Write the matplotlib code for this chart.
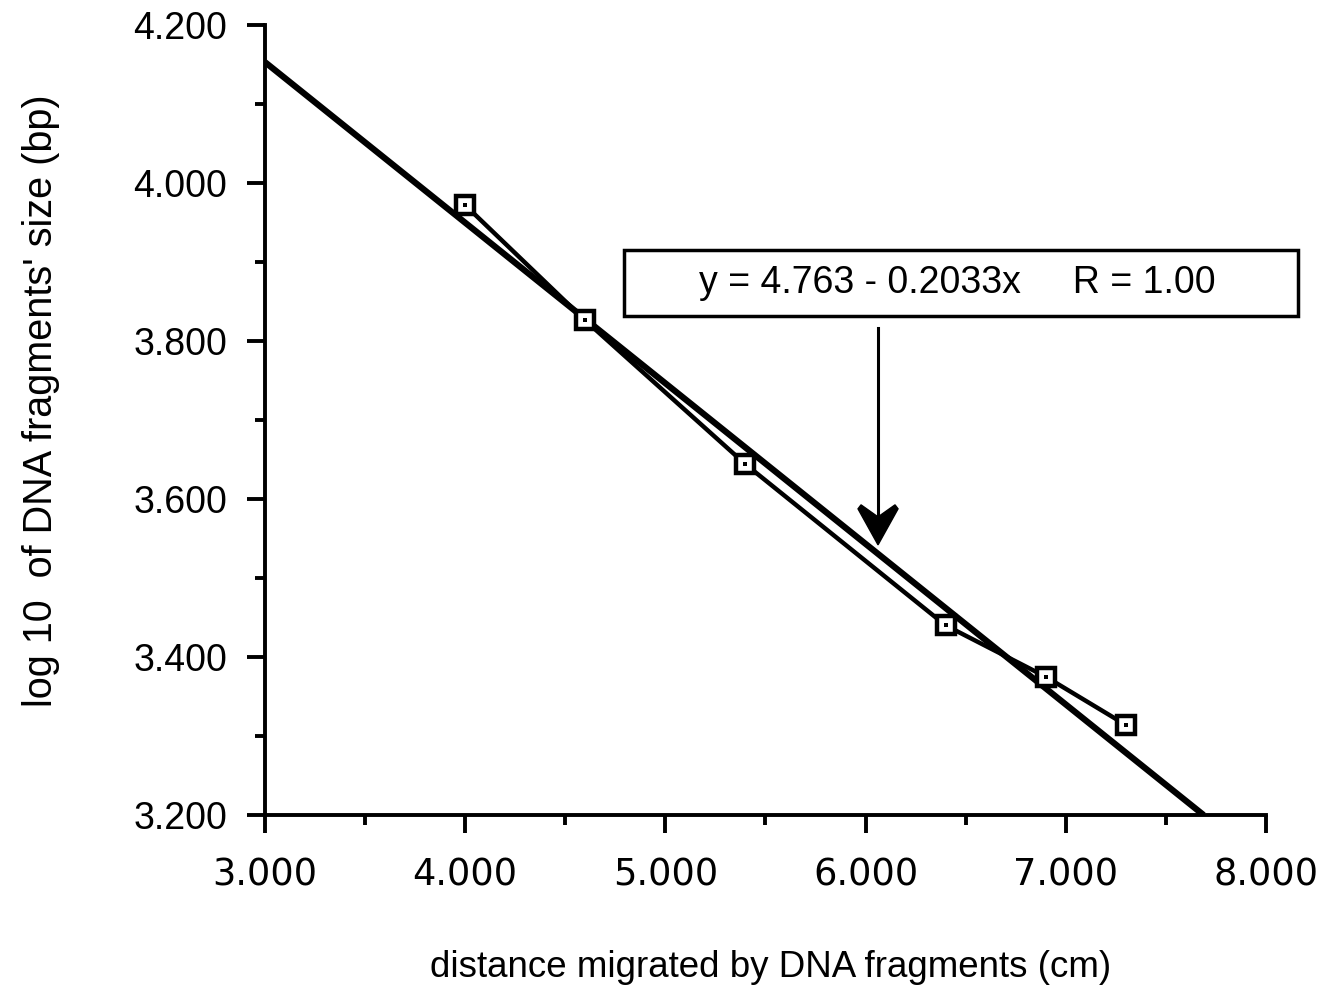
import numpy as np
import matplotlib.pyplot as plt
from matplotlib.ticker import MultipleLocator, FormatStrFormatter
from matplotlib.patches import Polygon
from matplotlib.transforms import ScaledTranslation

# measured gel migration vs log10 fragment size
distance = [4.0, 4.6, 5.4, 6.4, 6.9, 7.3]
log_size = [3.972, 3.826, 3.644, 3.440, 3.375, 3.314]

# linear fit printed on the chart
intercept = 4.763
slope = -0.2033
fit_label = "y = 4.763 - 0.2033x     R = 1.00"

plt.rcParams['font.family'] = ['Liberation Sans', 'DejaVu Sans']

fig = plt.figure(figsize=(13.26, 9.89), dpi=100)
ax = fig.add_axes([0.1998, 0.1759, 0.755, 0.7988])

# regression line, from x=3 until it reaches the bottom of the axis
x0 = 3.0
x1 = (intercept - 3.2) / -slope
fx = np.array([x0, x1])
ax.plot(fx, intercept + slope * fx, color='black', lw=4.5, solid_capstyle='butt', zorder=2)

# data points joined by a line
ax.plot(distance, log_size, color='black', lw=3.2, zorder=3)
ax.plot(distance, log_size, ls='none', marker='s', ms=12.5, mfc='white', mec='black', mew=3.2, zorder=4)
ax.plot(distance, log_size, ls='none', marker='s', ms=3, mfc='black', mec='black', mew=0, zorder=5)

ax.set_xlim(3, 8)
ax.set_ylim(3.2, 4.2)

for s in ['top', 'right']:
    ax.spines[s].set_visible(False)
for s in ['left', 'bottom']:
    ax.spines[s].set_linewidth(2.8)

ax.xaxis.set_major_locator(MultipleLocator(1))
ax.xaxis.set_minor_locator(MultipleLocator(0.5))
ax.yaxis.set_major_locator(MultipleLocator(0.2))
ax.yaxis.set_minor_locator(MultipleLocator(0.1))
ax.xaxis.set_major_formatter(FormatStrFormatter('%.3f'))
ax.yaxis.set_major_formatter(FormatStrFormatter('%.3f'))

ax.tick_params(axis='both', which='major', direction='out', length=13, width=2.8)
ax.tick_params(axis='both', which='minor', direction='out', length=7, width=2.8)
ax.tick_params(axis='x', which='major', pad=17, labelsize=26.5, labelfontfamily='DejaVu Sans')
ax.tick_params(axis='y', which='major', pad=14, labelsize=27, labelfontfamily='Liberation Sans')

fig.text(0.581, 0.004, "distance migrated by DNA fragments (cm)", fontsize=26.5,
         ha='center', va='bottom')
fig.text(0.031, 0.595, "log 10  of DNA fragments' size (bp)", fontsize=28.5,
         rotation=90, ha='center', va='center')

# equation box and arrow pointing at the fit
ax.add_patch(plt.Rectangle((4.793, 3.8316), 8.16 - 4.793, 3.915 - 3.8316, fill=False,
                           lw=2.5, ec='black', clip_on=False, zorder=6))
ax.text(6.457, 3.873, fit_label, fontsize=27, ha='center', va='center', zorder=7)

tip_x, tip_y = 6.062, 3.542
ax.plot([tip_x, tip_x], [3.8165, 3.57], color='black', lw=2.2, zorder=6)
head = np.array([[0, 0], [-0.2, 0.36], [-0.17, 0.40], [-0.015, 0.29],
                 [0.015, 0.29], [0.17, 0.40], [0.2, 0.36]])
ax.add_patch(Polygon(head, closed=True, fc='black', ec='black', lw=1,
                     transform=fig.dpi_scale_trans + ScaledTranslation(tip_x, tip_y, ax.transData),
                     zorder=6))

fig.savefig('out.png', dpi=100)
